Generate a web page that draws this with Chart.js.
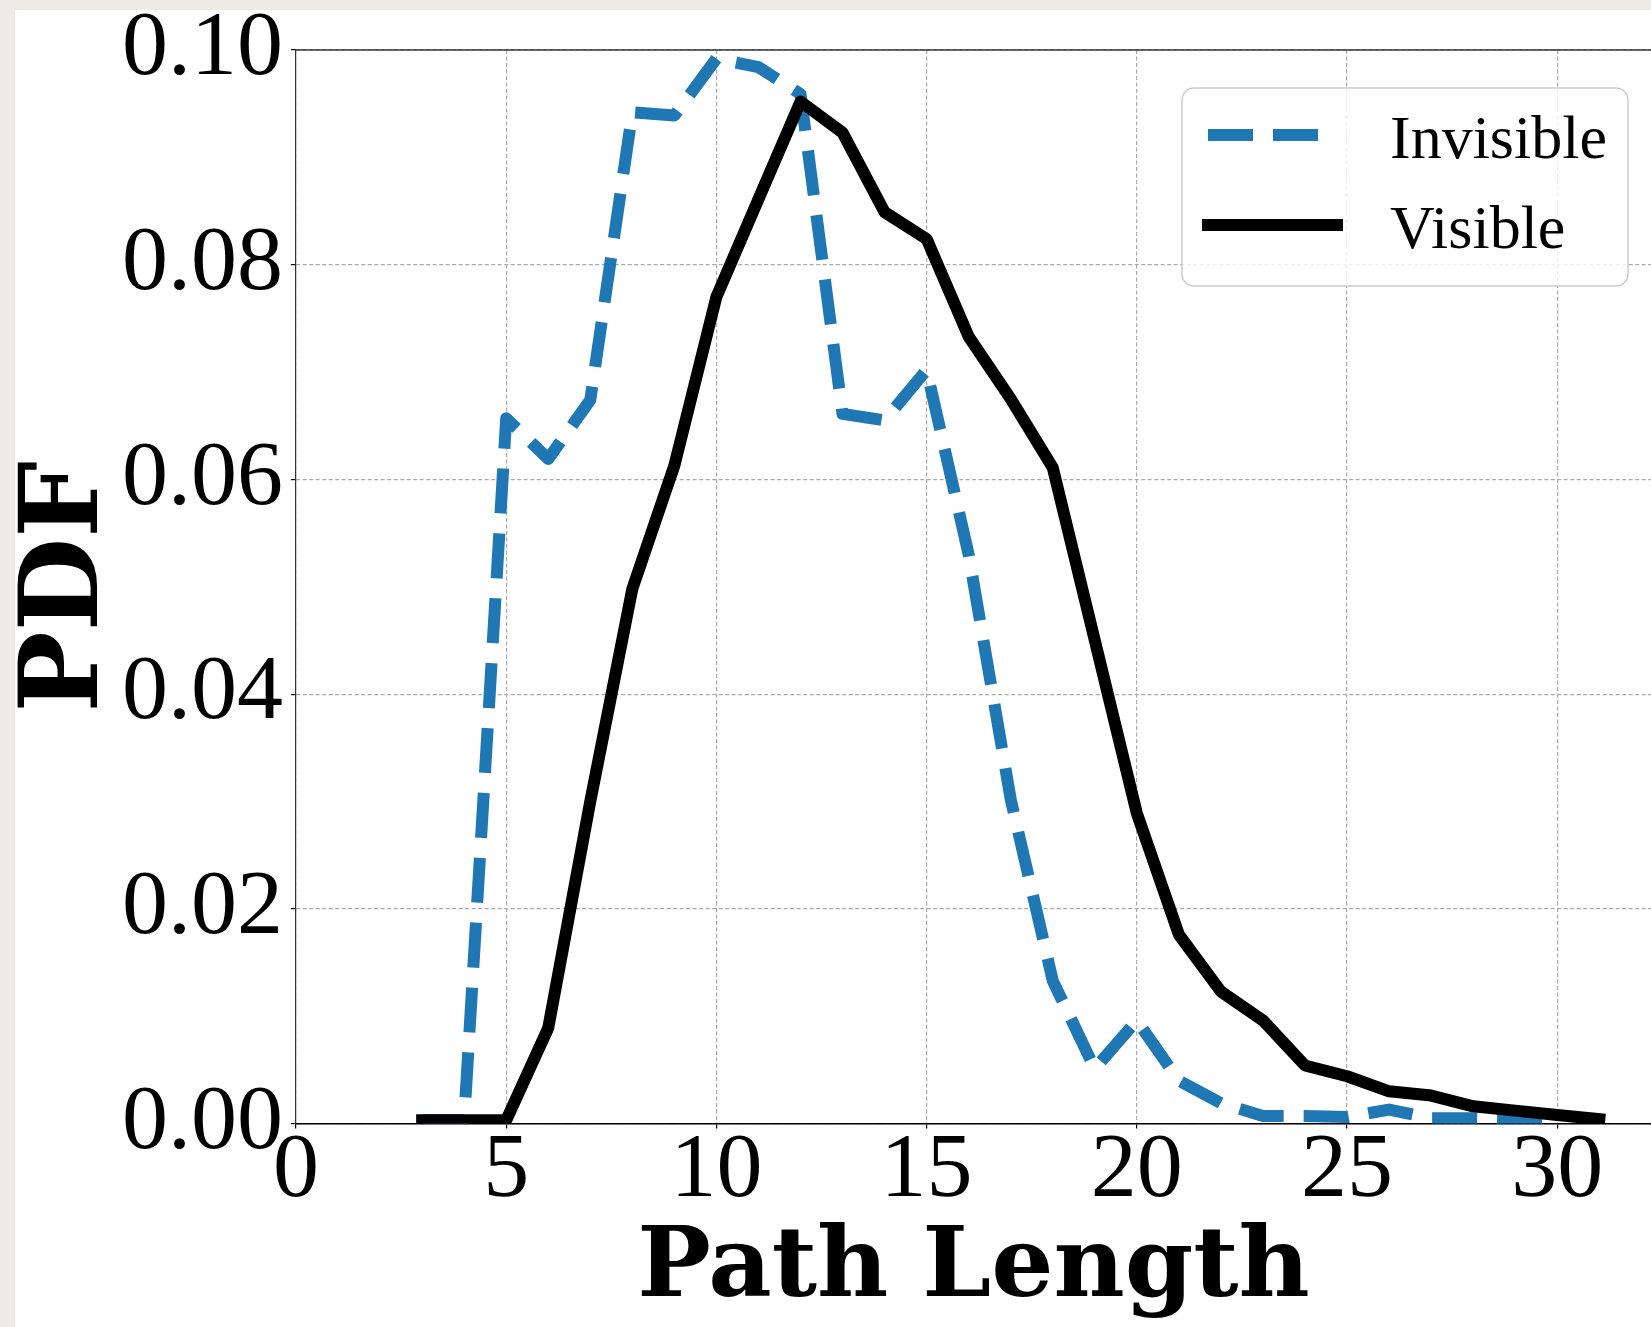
<!DOCTYPE html>
<html>
<head>
<meta charset="utf-8">
<title>Path Length PDF</title>
<script src="https://cdn.jsdelivr.net/npm/chart.js@4.4.1/dist/chart.umd.min.js"></script>
<style>
  html, body { margin: 0; padding: 0; background: #eeebe5; }
  #wrap { position: absolute; left: 15px; top: 10px; width: 1636px; height: 1317px; background: #fff; }
</style>
</head>
<body>
<div id="wrap"><canvas id="pdfChart"></canvas></div>
<script>
// path length values (x) and PDF values (y)
const invisibleX = [3, 4, 5, 6, 7, 8, 9, 10, 11, 12, 13, 14, 15, 16, 17, 18, 19, 20, 21, 22, 23, 24, 25, 26, 27, 28, 29, 30];
const invisibleY = [0.0003, 0.0003, 0.0657, 0.0619, 0.0674, 0.0942, 0.0939, 0.0992, 0.0984, 0.0959, 0.0661, 0.0655, 0.0702,
                    0.0530, 0.0302, 0.0133, 0.0051, 0.0096, 0.0040, 0.0019, 0.0007, 0.0007, 0.0006, 0.0013, 0.0005, 0.0005, 0.0004, 0.0003];

const visibleX = [3, 4, 5, 6, 7, 8, 9, 10, 11, 12, 13, 14, 15, 16, 17, 18, 19, 20, 21, 22, 23, 24, 25, 26, 27, 28, 29, 30, 31];
const visibleY = [0.0003, 0.0003, 0.0003, 0.0089, 0.0300, 0.0498, 0.0613, 0.0770, 0.0861, 0.0952, 0.0923, 0.0849, 0.0824,
                  0.0733, 0.0675, 0.0611, 0.0450, 0.0289, 0.0176, 0.0123, 0.0096, 0.0054, 0.0044, 0.0030, 0.0026, 0.0016, 0.0012, 0.0008, 0.0004];

const xTicks = [0, 5, 10, 15, 20, 25, 30];
const yTicks = [0, 0.02, 0.04, 0.06, 0.08, 0.10];
const yTickLabels = ['0.00', '0.02', '0.04', '0.06', '0.08', '0.10'];

const seriesNames = ['Invisible', 'Visible'];

function toPoints(xs, ys) {
    return xs.map((x, i) => ({ x: x, y: ys[i] }));
}

// top spine + legend box (matplotlib style)
const frameAndLegend = {
    id: 'frameAndLegend',
    beforeDatasetsDraw(chart) {
        const { ctx, chartArea } = chart;
        ctx.save();
        ctx.strokeStyle = '#333';
        ctx.lineWidth = 1.5;
        ctx.beginPath();
        ctx.moveTo(chartArea.left, chartArea.top);
        ctx.lineTo(chartArea.right, chartArea.top);
        ctx.stroke();
        ctx.restore();
    },
    afterDatasetsDraw(chart) {
        const ctx = chart.ctx;
        const ds = chart.data.datasets;
        ctx.save();

        // box
        const bx = 1167, by = 78, bw = 446, bh = 198, r = 12;
        ctx.beginPath();
        ctx.roundRect(bx, by, bw, bh, r);
        ctx.fillStyle = 'rgba(255,255,255,0.8)';
        ctx.fill();
        ctx.strokeStyle = '#cccccc';
        ctx.lineWidth = 1.5;
        ctx.stroke();

        // handles
        ctx.lineCap = 'butt';
        ctx.lineWidth = ds[0].borderWidth;
        ctx.strokeStyle = ds[0].borderColor;
        ctx.setLineDash(ds[0].borderDash);
        ctx.beginPath();
        ctx.moveTo(1193, 125);
        ctx.lineTo(1304, 125);
        ctx.stroke();

        ctx.setLineDash([]);
        ctx.lineWidth = ds[1].borderWidth;
        ctx.strokeStyle = ds[1].borderColor;
        ctx.beginPath();
        ctx.moveTo(1187, 215);
        ctx.lineTo(1328, 215);
        ctx.stroke();

        // labels
        ctx.fillStyle = '#000';
        ctx.font = '62px "Liberation Serif"';
        ctx.textAlign = 'left';
        ctx.textBaseline = 'alphabetic';
        ctx.fillText(seriesNames[0], 1375, 148);
        ctx.fillText(seriesNames[1], 1375, 238);
        ctx.restore();
    }
};

const tickFont = { family: 'Liberation Serif', size: 92, lineHeight: 0.9 };
const titleFont = { family: 'DejaVu Serif', weight: 'bold', lineHeight: 1 };

new Chart(document.getElementById('pdfChart'), {
    type: 'line',
    data: {
        datasets: [{
            label: seriesNames[0],
            data: toPoints(invisibleX, invisibleY),
            borderColor: '#1f77b4',
            borderWidth: 12,
            borderDash: [45, 20],
            borderCapStyle: 'butt',
            borderJoinStyle: 'round',
            pointRadius: 0,
            tension: 0,
            fill: false,
            order: 2
        }, {
            label: seriesNames[1],
            data: toPoints(visibleX, visibleY),
            borderColor: '#000000',
            borderWidth: 12,
            borderCapStyle: 'square',
            borderJoinStyle: 'round',
            pointRadius: 0,
            tension: 0,
            fill: false,
            order: 1
        }]
    },
    options: {
        responsive: true,
        maintainAspectRatio: false,
        devicePixelRatio: 1,
        animation: false,
        layout: { padding: { top: 40, right: 0, bottom: 0, left: 0 } },
        plugins: {
            legend: { display: false },
            tooltip: { enabled: false },
            title: { display: false }
        },
        scales: {
            x: {
                type: 'linear',
                min: 0,
                max: 32.23,
                afterBuildTicks: s => { s.ticks = xTicks.map(v => ({ value: v })); },
                afterFit: s => {
                    s.height = 203.5;
                    s.paddingLeft = 0; s.paddingRight = 0;
                },
                ticks: {
                    font: tickFont,
                    color: '#000',
                    padding: 2,
                    maxRotation: 0,
                    autoSkip: false,
                    callback: v => String(v)
                },
                grid: { color: '#aaaaaa', lineWidth: 1.2, tickLength: 5, tickColor: '#000', tickWidth: 1.2 },
                border: { color: '#000', width: 1.5, dash: [4, 2.5] },
                title: {
                    display: true,
                    text: 'Path Length',
                    color: '#000',
                    font: Object.assign({ size: 98 }, titleFont),
                    padding: { top: 0, bottom: 7 }
                }
            },
            y: {
                min: 0,
                max: 0.10,
                afterBuildTicks: s => { s.ticks = yTicks.map(v => ({ value: v })); },
                afterFit: s => {
                    s.width = 281;
                    s.paddingTop = 0; s.paddingBottom = 0;
                },
                ticks: {
                    font: tickFont,
                    color: '#000',
                    padding: 8,
                    autoSkip: false,
                    callback: (v, i) => yTickLabels[i]
                },
                grid: { color: '#aaaaaa', lineWidth: 1.2, tickLength: 5, tickColor: '#000', tickWidth: 1.2 },
                border: { color: '#333', width: 1.2, dash: [4, 2.5] },
                title: {
                    display: true,
                    text: 'PDF',
                    color: '#000',
                    font: Object.assign({ size: 108 }, titleFont),
                    padding: { top: 0, bottom: 0 }
                }
            }
        }
    },
    plugins: [frameAndLegend]
});
</script>
</body>
</html>
